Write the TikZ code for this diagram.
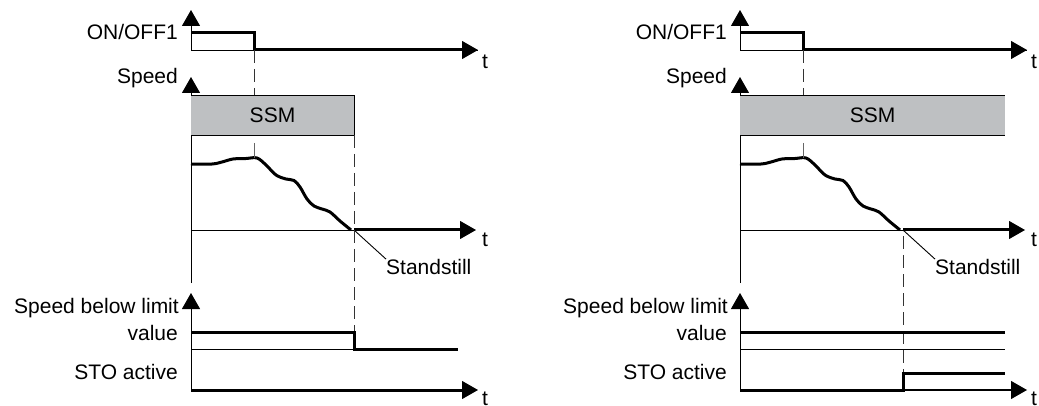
\documentclass[tikz,border=0pt]{standalone}
\usepackage{fontspec}
\setmainfont{Liberation Sans}
\usetikzlibrary{arrows.meta}
\begin{document}
\begin{tikzpicture}[x=1pt,y=-1pt,
  every node/.style={font=\fontsize{21}{24}\selectfont, inner sep=0pt},
  thinln/.style={line width=0.9pt, black},
  thickln/.style={line width=3pt, black},
  axarrow/.style={-{Triangle[length=16pt,width=18pt]}},
  dashln/.style={line width=0.9pt, dash pattern=on 13pt off 6pt, black!80},
  lbl/.style={anchor=east},
  tlbl/.style={anchor=north west},
  ssmbox/.style={fill=ssmgray, draw=none}]
\definecolor{ssmgray}{RGB}{190,192,194}
\useasboundingbox (0,0) rectangle (1039,406);
\foreach \p/\dx in {L/0,R/549}{
\begin{scope}[xshift=\dx pt]
  % coordinates
  \coordinate (\p-o1) at (191,50);
  \coordinate (\p-a1) at (191,10);
  \coordinate (\p-e1) at (478,50);
  \coordinate (\p-o2) at (191,283);
  \coordinate (\p-a2) at (191,77);
  \coordinate (\p-z2) at (191,230);
  \coordinate (\p-e2) at (476,230);
  \coordinate (\p-ss) at (354,230);
  \coordinate (\p-o3) at (191,390);
  \coordinate (\p-a3) at (191,293);
  \coordinate (\p-e3) at (478,390);
  % labels
  \node[lbl] (\p-lon) at (178,32) {ON/OFF1};
  \node[lbl] (\p-lsp) at (178,78) {Speed};
  \node[lbl] (\p-lsb) at (179,308) {Speed below limit};
  \node[lbl] (\p-lval) at (178,333) {value};
  \node[lbl] (\p-lsto) at (178,372) {STO active};
  \node[tlbl] (\p-t1) at (482,55) {t};
  \node[tlbl] (\p-t2) at (482,233) {t};
  \node[tlbl] (\p-t3) at (482,392) {t};
  \node[anchor=west] (\p-std) at (386,267) {Standstill};
  % ON/OFF1
  \draw[thinln,axarrow] (\p-o1) -- (\p-a1);
  \draw[thinln] (\p-o1) -- (\p-e1);
  \draw[thickln] (191,33) -- (254,33) -- (254,50) -- (462,50);
  \draw[thinln,axarrow] (462,50) -- (\p-e1);
  % speed axis
  \draw[thinln,axarrow] (\p-o2) -- (\p-a2);
  \draw[thinln] (\p-z2) -- (\p-ss);
  \draw[thickln] (\p-ss) -- (462,230);
  \draw[thinln,axarrow] (462,230) -- (\p-e2);
  % speed curve
  \draw[thickln, line join=round] plot[smooth, tension=0.55] coordinates
    {(191,164) (212,164) (222,162) (233,159) (246,158.5) (257,158)
     (266,165) (276,175) (286,179) (294,180.5) (300,187) (307,199) (314,206)
     (322,209) (330,212) (340,221) (351,230)};
  \draw[thinln] (\p-ss) -- (\p-std.north west);
  % speed below limit / STO
  \draw[thinln,axarrow] (\p-o3) -- (\p-a3);
\end{scope}
}
% left-specific
\path[ssmbox] (191,95) rectangle (354,135);
\draw[thinln] (191,95) -- (354,95) -- (354,135) -- (191,135);
\node (L-ssm) at (272.5,115) {SSM};
\draw[dashln] (254,50) -- (254,95);
\draw[line width=0.9pt, black!60] (254,143) -- (254,158);
\draw[dashln] (354,135) -- (354,350);
\draw[thinln] (191,349) -- (354,349);
\draw[thickln] (191,332) -- (354,332) -- (354,349) -- (458,349);
\draw[thickln] (L-o3) -- (462,390);
% right-specific
\path[ssmbox] (740,95) rectangle (1005,135);
\draw[thinln] (740,95) -- (1005,95);
\draw[thinln] (740,135) -- (1005,135);
\node (R-ssm) at (872.5,115) {SSM};
\draw[dashln] (803,50) -- (803,95);
\draw[line width=0.9pt, black!60] (803,143) -- (803,158);
\draw[dashln] (903,236) -- (903,373);
\draw[thinln] (740,349) -- (1005,349);
\draw[thickln] (740,332) -- (1005,332);
\draw[thickln] (740,390) -- (903,390) -- (903,373) -- (1005,373);
\draw[line width=2pt] (903,390) -- (1011,390);
\draw[thinln,axarrow] (1010,390) -- (R-e3);
\draw[thinln,axarrow] (462,390) -- (L-e3);
\end{tikzpicture}
\end{document}
